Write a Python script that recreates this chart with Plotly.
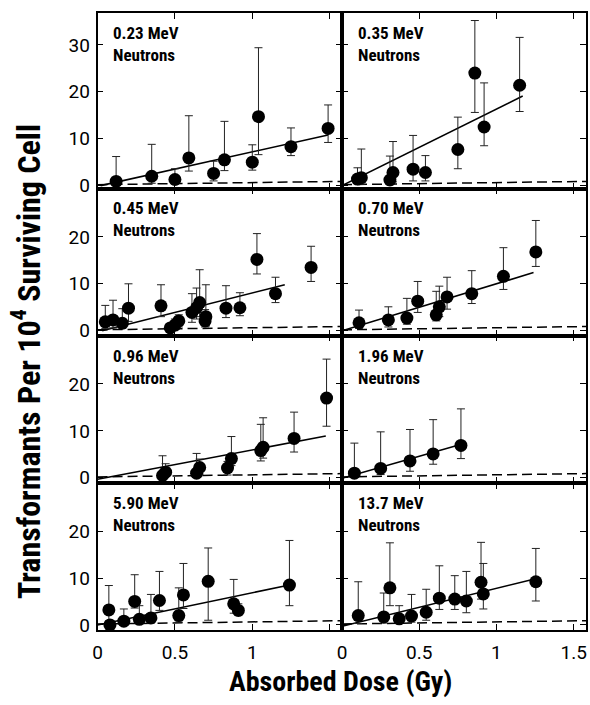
import plotly.graph_objects as go

# ---------------- data ----------------
energy_labels = ["0.23 MeV", "0.35 MeV", "0.45 MeV", "0.70 MeV",
                 "0.96 MeV", "1.96 MeV", "5.90 MeV", "13.7 MeV"]

dose_023 = [0.12, 0.35, 0.50, 0.59, 0.75, 0.82, 1.00, 1.04, 1.25, 1.49]
val_023 = [0.9, 2.0, 1.3, 5.9, 2.6, 5.5, 5.0, 14.7, 8.3, 12.2]
hi_023 = [6.2, 8.8, 3.6, 14.9, 5.2, 13.7, 8.7, 29.4, 12.3, 17.2]
lo_023 = [0.1, 0.5, 0.3, 3.1, 1.0, 3.2, 3.3, 6.6, 6.4, 9.2]
fitx_023 = [0.02, 1.49]
fity_023 = [0.0, 10.8]

dose_035 = [0.10, 0.125, 0.31, 0.33, 0.46, 0.54, 0.75, 0.86, 0.92, 1.15]
val_035 = [1.4, 1.7, 1.2, 2.8, 3.5, 2.8, 7.7, 24.0, 12.5, 21.4]
hi_035 = [3.8, 7.8, 6.3, 9.4, 10.7, 6.4, 14.6, 35.2, 21.9, 31.6]
lo_035 = [0.4, 0.3, 0.2, 0.8, 1.0, 1.0, 3.6, 15.6, 8.5, 15.8]
fitx_035 = [0.0, 1.17]
fity_035 = [0.0, 19.1]

dose_045 = [0.05, 0.10, 0.16, 0.20, 0.41, 0.47, 0.50, 0.525, 0.61, 0.64,
            0.66, 0.695, 0.70, 0.83, 0.92, 1.03, 1.15, 1.38]
val_045 = [1.9, 2.3, 1.6, 4.8, 5.3, 0.6, 1.2, 2.1, 3.9, 4.9,
           6.0, 2.1, 3.0, 4.8, 4.9, 15.2, 7.9, 13.5]
hi_045 = [5.4, 6.5, 4.7, 10.0, 9.8, 1.5, 2.5, 3.4, 7.9, 9.1,
          13.0, 4.5, 9.8, 9.6, 8.1, 20.7, 11.4, 18.0]
lo_045 = [0.5, 0.6, 0.5, 2.0, 3.0, 0.1, 0.3, 0.8, 1.8, 2.5,
          3.0, 0.8, 1.0, 2.8, 3.2, 12.1, 6.0, 10.5]
fitx_045 = [0.03, 1.21]
fity_045 = [0.0, 9.8]

dose_070 = [0.11, 0.30, 0.42, 0.49, 0.61, 0.63, 0.68, 0.84, 1.045, 1.255]
val_070 = [1.7, 2.3, 2.7, 6.3, 3.4, 5.1, 7.2, 7.9, 11.6, 16.8]
hi_070 = [4.4, 5.1, 6.9, 10.5, 8.4, 9.5, 11.4, 12.8, 17.7, 23.5]
lo_070 = [0.5, 0.8, 1.4, 3.9, 2.1, 3.0, 4.6, 5.8, 8.8, 13.7]
fitx_070 = [0.0, 1.24]
fity_070 = [0.0, 12.4]

dose_096 = [0.42, 0.44, 0.64, 0.66, 0.84, 0.865, 1.055, 1.07, 1.27, 1.48]
val_096 = [0.5, 1.2, 1.0, 2.2, 2.1, 4.1, 5.8, 6.5, 8.4, 17.0]
hi_096 = [4.7, 3.0, 5.2, 4.0, 3.5, 8.8, 11.4, 12.8, 14.0, 25.3]
lo_096 = [0.1, 0.3, 0.2, 0.8, 0.6, 2.6, 3.6, 4.2, 5.5, 11.0]
fitx_096 = [0.0, 1.475]
fity_096 = [-0.3, 8.9]

dose_196 = [0.08, 0.25, 0.44, 0.59, 0.77]
val_196 = [1.0, 2.0, 3.6, 5.1, 6.9]
hi_196 = [7.4, 9.8, 10.3, 12.4, 14.7]
lo_196 = [0.2, 0.7, 1.4, 2.9, 4.1]
fitx_196 = [0.0, 0.79]
fity_196 = [-0.1, 7.3]

dose_590 = [0.073, 0.08, 0.17, 0.24, 0.27, 0.345, 0.40, 0.525, 0.555, 0.715, 0.88, 0.91, 1.24]
val_590 = [3.2, 0.0, 0.8, 5.0, 1.2, 1.5, 5.2, 2.0, 6.4, 9.3, 4.5, 3.1, 8.5]
hi_590 = [8.4, 0.5, 3.4, 10.7, 4.1, 6.5, 11.4, 7.9, 13.1, 16.4, 9.7, 4.5, 18.0]
lo_590 = [0.8, 0.0, 0.2, 3.6, 0.3, 0.4, 3.1, 0.6, 3.5, 1.0, 2.5, 2.0, 4.1]
fitx_590 = [0.0, 1.24]
fity_590 = [0.0, 8.5]

dose_137 = [0.105, 0.27, 0.31, 0.37, 0.45, 0.545, 0.63, 0.73, 0.805, 0.90, 0.915, 1.255]
val_137 = [2.0, 1.7, 7.9, 1.3, 1.9, 2.7, 5.7, 5.5, 5.1, 9.1, 6.6, 9.2]
hi_137 = [9.2, 6.8, 17.5, 4.1, 6.5, 7.6, 12.6, 10.5, 11.4, 17.6, 13.1, 16.3]
lo_137 = [0.3, 0.4, 4.1, 0.4, 0.6, 1.0, 3.3, 3.3, 2.6, 5.5, 3.4, 5.1]
fitx_137 = [0.0, 1.26]
fity_137 = [-0.3, 9.9]

# background (control) level, dashed
bg_x = [0.0, 1.58]
bg_y = [0.2, 0.9]

x_ticks_left = [0, 0.5, 1]
x_ticks_right = [0, 0.5, 1, 1.5]
x_ticktext_left = ["0", "0.5", "1"]
x_ticktext_right = ["0", "0.5", "1", "1.5"]
y_ticks_top = [0, 10, 20, 30]
y_ticks_other = [0, 10, 20]

panels = [
    (dose_023, val_023, hi_023, lo_023, fitx_023, fity_023),
    (dose_035, val_035, hi_035, lo_035, fitx_035, fity_035),
    (dose_045, val_045, hi_045, lo_045, fitx_045, fity_045),
    (dose_070, val_070, hi_070, lo_070, fitx_070, fity_070),
    (dose_096, val_096, hi_096, lo_096, fitx_096, fity_096),
    (dose_196, val_196, hi_196, lo_196, fitx_196, fity_196),
    (dose_590, val_590, hi_590, lo_590, fitx_590, fity_590),
    (dose_137, val_137, hi_137, lo_137, fitx_137, fity_137),
]

# ---------------- layout geometry ----------------
W, H = 590, 705
FONT = "Roboto Condensed, Liberation Sans Narrow, Arial Narrow, Roboto, Liberation Sans, sans-serif"
col_px = [(93.5, 340.5), (340.5, 587.0)]
row_px = [(13, 191), (191, 340), (340, 489), (489, 638)]
x_range = [0, 1.58]
y_ranges = [[-0.63, 36.84], [-1.05, 30.3], [-1.05, 30.3], [-1.05, 30.3]]

fig = go.Figure()
layout_axes = {}
annotations = []

for i, (dose, val, hi, lo, fx, fy) in enumerate(panels):
    r, c = divmod(i, 2)
    k = i + 1
    xa = "x" if k == 1 else f"x{k}"
    ya = "y" if k == 1 else f"y{k}"

    fig.add_trace(go.Scatter(
        x=bg_x, y=bg_y, mode="lines",
        line=dict(color="black", width=1.5, dash="10px,5px"),
        xaxis=xa, yaxis=ya, showlegend=False, hoverinfo="skip"))
    fig.add_trace(go.Scatter(
        x=fx, y=fy, mode="lines",
        line=dict(color="black", width=1.6),
        xaxis=xa, yaxis=ya, showlegend=False, hoverinfo="skip"))
    fig.add_trace(go.Scatter(
        x=dose, y=val, mode="markers",
        marker=dict(color="black", size=13, line=dict(width=0)),
        error_y=dict(type="data", symmetric=False,
                     array=[h - v for h, v in zip(hi, val)],
                     arrayminus=[v - l for v, l in zip(val, lo)],
                     color="#222222", thickness=1, width=4),
        cliponaxis=False,
        xaxis=xa, yaxis=ya, showlegend=False))

    x0, x1 = col_px[c]
    t, b = row_px[r]
    xkey = "xaxis" if k == 1 else f"xaxis{k}"
    ykey = "yaxis" if k == 1 else f"yaxis{k}"
    common = dict(showline=True, mirror="ticks", linecolor="black", linewidth=1.6,
                  ticks="inside", ticklen=6, tickwidth=1, tickcolor="black",
                  showgrid=False, zeroline=False,
                  tickfont=dict(family="Roboto, Liberation Sans, sans-serif", size=19, color="black"))
    xcfg = dict(common, domain=[x0 / W, x1 / W], range=x_range, anchor=ya,
                tickvals=x_ticks_left if c == 0 else x_ticks_right,
                ticktext=x_ticktext_left if c == 0 else x_ticktext_right,
                showticklabels=(r == 3), ticklabelstandoff=5)
    if c == 0:
        xcfg["minor"] = dict(tickvals=[1.5], ticks="inside", ticklen=6,
                             tickwidth=1, tickcolor="black", showgrid=False)
    layout_axes[xkey] = xcfg
    layout_axes[ykey] = dict(
        common, domain=[(H - b) / H, (H - t) / H], range=y_ranges[r], anchor=xa,
        tickvals=y_ticks_top if r == 0 else y_ticks_other,
        showticklabels=(c == 0), ticklabelstandoff=2)

    ph = b - t
    annotations.append(dict(
        xref=f"{xa} domain", yref=f"{ya} domain",
        x=14 / 247, y=1 - 8 / ph, xanchor="left", yanchor="top",
        text=f"{energy_labels[i]}<br>Neutrons", showarrow=False, align="left",
        font=dict(family=FONT, size=17, color="black", weight="bold")))

annotations.append(dict(
    xref="paper", yref="paper", x=22 / W, y=(H - 366) / H,
    text="Transformants Per 10<sup>4</sup> Surviving Cell",
    textangle=-90, showarrow=False, xanchor="center", yanchor="middle",
    font=dict(family=FONT, size=32, color="black", weight="bold")))
annotations.append(dict(
    xref="paper", yref="paper", x=339 / W, y=(H - 690) / H,
    text="Absorbed Dose (Gy)", showarrow=False,
    xanchor="center", yanchor="middle",
    font=dict(family=FONT, size=28, color="black", weight="bold")))

fig.update_layout(
    width=W, height=H,
    margin=dict(l=0, r=0, t=0, b=0),
    paper_bgcolor="white", plot_bgcolor="white",
    showlegend=False,
    annotations=annotations,
    **layout_axes)

fig.write_html("out.html",
               config={"displayModeBar": False},
               post_script="document.body.style.margin='0px';document.body.style.padding='0px';")
